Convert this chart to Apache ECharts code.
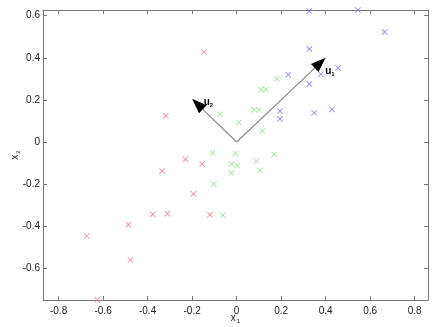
<!DOCTYPE html>
<html><head><meta charset="utf-8">
<script src="https://cdn.jsdelivr.net/npm/echarts@6/dist/echarts.min.js"></script>
<style>html,body{margin:0;padding:0;background:#fff}#c{width:438px;height:327px}</style>
</head><body><div id="c"></div>
<script>
var xTicks = [-0.8, -0.6, -0.4, -0.2, 0, 0.2, 0.4, 0.6, 0.8];
var yTicks = [-0.6, -0.4, -0.2, 0, 0.2, 0.4, 0.6];
var redPoints = [
  [-0.147, 0.428], [-0.318, 0.125], [-0.23, -0.082], [-0.155, -0.104],
  [-0.335, -0.137], [-0.194, -0.246], [-0.377, -0.343], [-0.311, -0.34],
  [-0.486, -0.392], [-0.673, -0.446], [-0.477, -0.559], [-0.626, -0.749],
  [-0.12, -0.345]
];
var greenPoints = [
  [0.108, 0.249], [0.132, 0.249], [0.079, 0.153], [0.100, 0.153],
  [-0.075, 0.131], [0.010, 0.093], [0.115, 0.054], [0.180, 0.300],
  [-0.108, -0.051], [-0.005, -0.054], [-0.023, -0.104], [0.003, -0.111],
  [-0.023, -0.146], [0.088, -0.090], [0.168, -0.059], [0.105, -0.135],
  [-0.102, -0.199], [-0.062, -0.348]
];
var bluePoints = [
  [0.327, 0.622], [0.545, 0.627], [0.665, 0.523], [0.327, 0.442],
  [0.232, 0.320], [0.378, 0.322], [0.456, 0.352], [0.327, 0.276],
  [0.195, 0.148], [0.195, 0.110], [0.348, 0.139], [0.428, 0.155]
];
var arrowTips = [[0.40, 0.40], [-0.20, 0.205]];
var arrowNames = ['1', '2'];
var arrowLabelPos = [[0.398, 0.335], [-0.148, 0.188]];

var chart = echarts.init(document.getElementById('c'));
var X = 'path://M0,1L1,0L5,4L9,0L10,1L6,5L10,9L9,10L5,6L1,10L0,9L4,5Z';
var font = 'Liberation Sans, Arial, sans-serif';
function scatter(data, color) {
  return { type: 'scatter', data: data, symbol: X, symbolSize: 6,
    itemStyle: { color: color }, xAxisIndex: 0, yAxisIndex: 0, z: 3, clip: false };
}
var axisLineStyle = { show: true, onZero: false, lineStyle: { color: '#777', width: 1 } };
function fmt(v) { return Math.abs(v) < 1e-9 ? '0' : String(Math.round(v * 10) / 10); }
var option = {
  animation: false,
  grid: { left: 43, right: 10, top: 10, bottom: 27, show: false, containLabel: false, outerBoundsMode: 'none' },
  xAxis: [{
    type: 'value', min: -0.87, max: 0.86, position: 'bottom',
    axisLine: axisLineStyle, splitLine: { show: false },
    axisTick: { show: true, inside: true, length: 4, lineStyle: { color: '#777' }, customValues: xTicks },
    axisLabel: { customValues: xTicks, margin: 6, fontSize: 10, color: '#222', fontFamily: font, formatter: fmt },
    name: '{b|x}{s|1}', nameLocation: 'middle', nameGap: 12, nameMoveOverlap: false,
    nameTextStyle: { rich: { b: { fontSize: 10, color: '#222', fontFamily: font }, s: { fontSize: 6, color: '#222', padding: [6, 0, 0, 1] } } }
  }, {
    type: 'value', min: -0.87, max: 0.86, position: 'top',
    axisLine: axisLineStyle, splitLine: { show: false },
    axisTick: { show: true, inside: true, length: 4, lineStyle: { color: '#777' }, customValues: xTicks },
    axisLabel: { show: false }
  }],
  yAxis: [{
    type: 'value', min: -0.75, max: 0.627, position: 'left',
    axisLine: axisLineStyle, splitLine: { show: false },
    axisTick: { show: true, inside: true, length: 4, lineStyle: { color: '#777' }, customValues: yTicks },
    axisLabel: { customValues: yTicks, margin: 3, fontSize: 10, color: '#222', fontFamily: font, formatter: fmt },
    name: '{b|x}{s|2}', nameLocation: 'middle', nameGap: 22, nameRotate: 90, nameMoveOverlap: false,
    nameTextStyle: { rich: { b: { fontSize: 10, color: '#222', fontFamily: font }, s: { fontSize: 6, color: '#222', padding: [6, 0, 0, 1] } } }
  }, {
    type: 'value', min: -0.75, max: 0.627, position: 'right',
    axisLine: axisLineStyle, splitLine: { show: false },
    axisTick: { show: true, inside: true, length: 4, lineStyle: { color: '#777' }, customValues: yTicks },
    axisLabel: { show: false }
  }],
  series: [
    scatter(redPoints, 'rgb(232,110,130)'),
    scatter(greenPoints, 'rgb(140,225,140)'),
    scatter(bluePoints, 'rgb(110,110,225)'),
    {
      type: 'custom', xAxisIndex: 0, yAxisIndex: 0, z: 5,
      data: arrowTips.map(function (t, i) { return [t[0], t[1], arrowLabelPos[i][0], arrowLabelPos[i][1], i]; }),
      renderItem: function (params, api) {
        var o = api.coord([0, 0]);
        var tip = api.coord([api.value(0), api.value(1)]);
        var lp = api.coord([api.value(2), api.value(3)]);
        var name = arrowNames[api.value(4)];
        var dx = tip[0] - o[0], dy = tip[1] - o[1];
        var len = Math.sqrt(dx * dx + dy * dy);
        var ux = dx / len, uy = dy / len;
        var hl = 15, hw = 5.5;
        var base = [tip[0] - ux * hl, tip[1] - uy * hl];
        var px = -uy, py = ux;
        return { type: 'group', children: [
          { type: 'line', shape: { x1: o[0], y1: o[1], x2: base[0], y2: base[1] },
            style: { stroke: '#8a8a8a', lineWidth: 1.2 } },
          { type: 'polygon', shape: { points: [tip, [base[0] + px * hw, base[1] + py * hw], [base[0] - px * hw, base[1] - py * hw]] },
            style: { fill: '#000' } },
          { type: 'text', x: lp[0], y: lp[1], style: {
            text: '{b|u}{s|' + name + '}', verticalAlign: 'middle', align: 'left',
            rich: { b: { fontSize: 10, fontWeight: 'bold', fill: '#000', fontFamily: font },
                    s: { fontSize: 6, fontWeight: 'bold', fill: '#000', fontFamily: font, padding: [5, 0, 0, 0] } } } }
        ] };
      }
    }
  ]
};
chart.setOption(option);
</script></body></html>
